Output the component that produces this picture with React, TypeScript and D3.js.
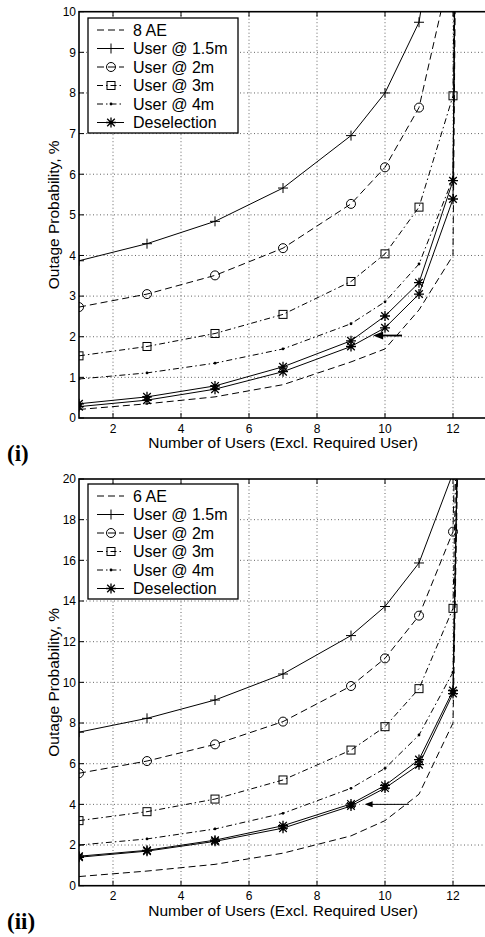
import React from "react";
import * as d3 from "d3";

const W = 485;
const H = 937;

// ---- data ----
const xUsers = [1, 3, 5, 7, 9, 10, 11, 12, 13];
const xTicks = [2, 4, 6, 8, 10, 12];
const yTicksTop = [0, 1, 2, 3, 4, 5, 6, 7, 8, 9, 10];
const yTicksBottom = [0, 2, 4, 6, 8, 10, 12, 14, 16, 18, 20];
const legendNames = ["User @ 1.5m", "User @ 2m", "User @ 3m", "User @ 4m", "Deselection"];

// Panel (i): 8 AE
const bound8 = [0.21, 0.35, 0.52, 0.82, 1.38, 1.7, 2.66, 4.0, 100];
const user15_8 = [3.87, 4.29, 4.84, 5.66, 6.95, 8.0, 9.74, 15, 100];
const user2_8 = [2.73, 3.05, 3.51, 4.18, 5.27, 6.17, 7.64, 11.3, 100];
const user3_8 = [1.53, 1.76, 2.08, 2.55, 3.36, 4.04, 5.19, 7.93, 100];
const user4_8 = [0.96, 1.11, 1.35, 1.7, 2.32, 2.86, 3.79, 5.9, 100];
const deselA_8 = [0.35, 0.52, 0.79, 1.26, 1.9, 2.51, 3.33, 5.84, 100];
const deselB_8 = [0.28, 0.44, 0.71, 1.14, 1.76, 2.22, 3.05, 5.39, 100];
const arrow8 = { xFrom: 10.5, xTo: 9.65, y: 2.03 };

// Panel (ii): 6 AE
const bound6 = [0.45, 0.72, 1.05, 1.6, 2.45, 3.2, 4.5, 8.0, 100];
const user15_6 = [7.55, 8.23, 9.13, 10.41, 12.3, 13.73, 15.87, 20.3, 100];
const user2_6 = [5.53, 6.13, 6.95, 8.07, 9.82, 11.18, 13.28, 17.41, 100];
const user3_6 = [3.2, 3.64, 4.26, 5.2, 6.67, 7.82, 9.69, 13.64, 100];
const user4_6 = [2.0, 2.3, 2.79, 3.56, 4.79, 5.77, 7.41, 10.5, 100];
const deselA_6 = [1.45, 1.74, 2.24, 2.95, 4.02, 4.93, 6.2, 9.6, 100];
const deselB_6 = [1.4, 1.7, 2.18, 2.83, 3.92, 4.8, 5.95, 9.45, 100];
const arrow6 = { xFrom: 10.7, xTo: 9.4, y: 4.0 };

// ---- styles ----
const DASH = "7 4";
const DASHDOT = "6 3 1.5 3";
type Marker = "none" | "plus" | "circle" | "square" | "dot" | "star";

const FONT = "'Liberation Sans', Arial, Helvetica, sans-serif";

function MarkerShape({ type, cx, cy }: { type: Marker; cx: number; cy: number }) {
  const s = 5;
  if (type === "plus")
    return <path d={`M${cx - s},${cy}H${cx + s}M${cx},${cy - s}V${cy + s}`} stroke="#000" strokeWidth={1} fill="none" />;
  if (type === "circle") return <circle cx={cx} cy={cy} r={4.5} stroke="#000" strokeWidth={1} fill="none" />;
  if (type === "square")
    return <rect x={cx - 4} y={cy - 4} width={8} height={8} stroke="#000" strokeWidth={1} fill="none" />;
  if (type === "dot") return <circle cx={cx} cy={cy} r={1.4} fill="#000" />;
  if (type === "star") {
    const d = 3.8;
    return (
      <path
        d={`M${cx - s},${cy}H${cx + s}M${cx},${cy - s}V${cy + s}M${cx - d},${cy - d}L${cx + d},${cy + d}M${cx - d},${cy + d}L${cx + d},${cy - d}`}
        stroke="#000"
        strokeWidth={1.3}
        fill="none"
      />
    );
  }
  return null;
}

type Series = { values: number[]; dash?: string; marker: Marker; width?: number };

function Panel(props: {
  id: string;
  yTop: number;
  yBottom: number;
  yMax: number;
  yTicks: number[];
  series: Series[];
  legendTop: number;
  aeLabel: string;
  tag: string;
  arrow: { xFrom: number; xTo: number; y: number };
  arrowThick: boolean;
}) {
  const { id, yTop, yBottom, yMax, yTicks, series, legendTop, aeLabel, tag, arrow, arrowThick } = props;
  const left = 79;
  const right = 487;
  const x = d3.scaleLinear().domain([1, 13]).range([left, right]);
  const y = d3.scaleLinear().domain([0, yMax]).range([yBottom, yTop]);
  const line = d3
    .line<[number, number]>()
    .x((d) => x(d[0]))
    .y((d) => y(d[1]));
  const clipId = `clip-${id}`;

  const legendStyles: Series[] = [series[0], series[1], series[2], series[3], series[4], series[5]];
  const legendLabels = [aeLabel, ...legendNames];
  const rowH = 18.5;

  const ax = x(arrow.xFrom);
  const axTo = x(arrow.xTo);
  const ay = y(arrow.y);
  const headL = arrowThick ? 10 : 8;
  const headW = arrowThick ? 4 : 3;

  return (
    <g>
      <defs>
        <clipPath id={clipId}>
          <rect x={left} y={yTop} width={right - left} height={yBottom - yTop} />
        </clipPath>
      </defs>
      {/* grid */}
      {xTicks.map((t) => (
        <line key={"gx" + t} x1={x(t)} x2={x(t)} y1={yTop} y2={yBottom} stroke="#666" strokeWidth={1} strokeDasharray="1 2.5" />
      ))}
      {yTicks
        .filter((t) => t > 0 && t < yMax)
        .map((t) => (
          <line key={"gy" + t} x1={left} x2={right} y1={y(t)} y2={y(t)} stroke="#666" strokeWidth={1} strokeDasharray="1 2.5" />
        ))}
      {/* data */}
      <g clipPath={`url(#${clipId})`}>
        {series.map((s, i) => (
          <path
            key={"s" + i}
            d={line(xUsers.map((xv, j) => [xv, s.values[j]] as [number, number])) || ""}
            fill="none"
            stroke="#000"
            strokeWidth={s.width ?? 1}
            strokeDasharray={s.dash}
          />
        ))}
        {series.map((s, i) =>
          xUsers
            .filter((xv) => xv <= 12)
            .map((xv, j) => <MarkerShape key={`m${i}-${j}`} type={s.marker} cx={x(xv)} cy={y(s.values[j])} />)
        )}
        {/* arrow */}
        <line x1={ax} x2={axTo + headL - 1} y1={ay} y2={ay} stroke="#000" strokeWidth={arrowThick ? 1.8 : 1} />
        <path d={`M${axTo},${ay}L${axTo + headL},${ay - headW}L${axTo + headL},${ay + headW}Z`} fill="#000" />
      </g>
      {/* axes box */}
      <rect x={left} y={yTop} width={right - left} height={yBottom - yTop} fill="none" stroke="#000" strokeWidth={1.6} />
      {xTicks.map((t) => (
        <g key={"tx" + t}>
          <line x1={x(t)} x2={x(t)} y1={yBottom} y2={yBottom - 5} stroke="#000" strokeWidth={1} />
          <line x1={x(t)} x2={x(t)} y1={yTop} y2={yTop + 5} stroke="#000" strokeWidth={1} />
          <text x={x(t)} y={yBottom + 14.5} textAnchor="middle" fontFamily={FONT} fontSize={12}>
            {t}
          </text>
        </g>
      ))}
      {yTicks.map((t) => (
        <g key={"ty" + t}>
          <line x1={left} x2={left + 5} y1={y(t)} y2={y(t)} stroke="#000" strokeWidth={1} />
          <text x={left - 3} y={y(t) + 4.3} textAnchor="end" fontFamily={FONT} fontSize={12}>
            {t}
          </text>
        </g>
      ))}
      {/* axis labels */}
      <text x={(left + right) / 2} y={yBottom + 30} textAnchor="middle" fontFamily={FONT} fontSize={15.5}>
        Number of Users (Excl. Required User)
      </text>
      <text
        transform={`translate(59,${(yTop + yBottom) / 2}) rotate(-90)`}
        textAnchor="middle"
        fontFamily={FONT}
        fontSize={15.5}
      >
        Outage Probability, %
      </text>
      <text x={7} y={yBottom + 43} fontFamily="'Liberation Serif', 'Times New Roman', serif" fontWeight="bold" fontSize={23}>
        {tag}
      </text>
      {/* legend */}
      <g>
        <rect x={88} y={legendTop} width={150} height={rowH * 6 + 4} fill="#fff" stroke="#000" strokeWidth={1.3} />
        {legendLabels.map((lab, i) => {
          const cy = legendTop + 12 + i * rowH;
          const st = legendStyles[i];
          return (
            <g key={"lg" + i}>
              <line x1={97} x2={124} y1={cy} y2={cy} stroke="#000" strokeWidth={st.width ?? 1} strokeDasharray={st.dash} />
              <MarkerShape type={st.marker} cx={111} cy={cy} />
              <text x={133} y={cy + 5.6} fontFamily={FONT} fontSize={16}>
                {lab}
              </text>
            </g>
          );
        })}
      </g>
    </g>
  );
}

export default function App() {
  const seriesTop: Series[] = [
    { values: bound8, dash: DASH, marker: "none" },
    { values: user15_8, marker: "plus" },
    { values: user2_8, dash: DASH, marker: "circle" },
    { values: user3_8, dash: DASHDOT, marker: "square" },
    { values: user4_8, dash: DASHDOT, marker: "dot" },
    { values: deselA_8, marker: "star" },
    { values: deselB_8, marker: "star" },
  ];
  const seriesBottom: Series[] = [
    { values: bound6, dash: DASH, marker: "none" },
    { values: user15_6, marker: "plus" },
    { values: user2_6, dash: DASH, marker: "circle" },
    { values: user3_6, dash: DASHDOT, marker: "square" },
    { values: user4_6, dash: DASHDOT, marker: "dot" },
    { values: deselA_6, marker: "star" },
    { values: deselB_6, marker: "star" },
  ];
  return (
    <svg
      width={W}
      height={H}
      viewBox={`0 0 ${W} ${H}`}
      style={{ position: "absolute", left: 0, top: 0, background: "#fff" }}
    >
      <rect width={W} height={H} fill="#fff" />
      <Panel
        id="top"
        yTop={11.7}
        yBottom={418}
        yMax={10}
        yTicks={yTicksTop}
        series={seriesTop}
        legendTop={18}
        aeLabel="8 AE"
        tag="(i)"
        arrow={arrow8}
        arrowThick={true}
      />
      <Panel
        id="bottom"
        yTop={479}
        yBottom={885.7}
        yMax={20}
        yTicks={yTicksBottom}
        series={seriesBottom}
        legendTop={484}
        aeLabel="6 AE"
        tag="(ii)"
        arrow={arrow6}
        arrowThick={false}
      />
    </svg>
  );
}
